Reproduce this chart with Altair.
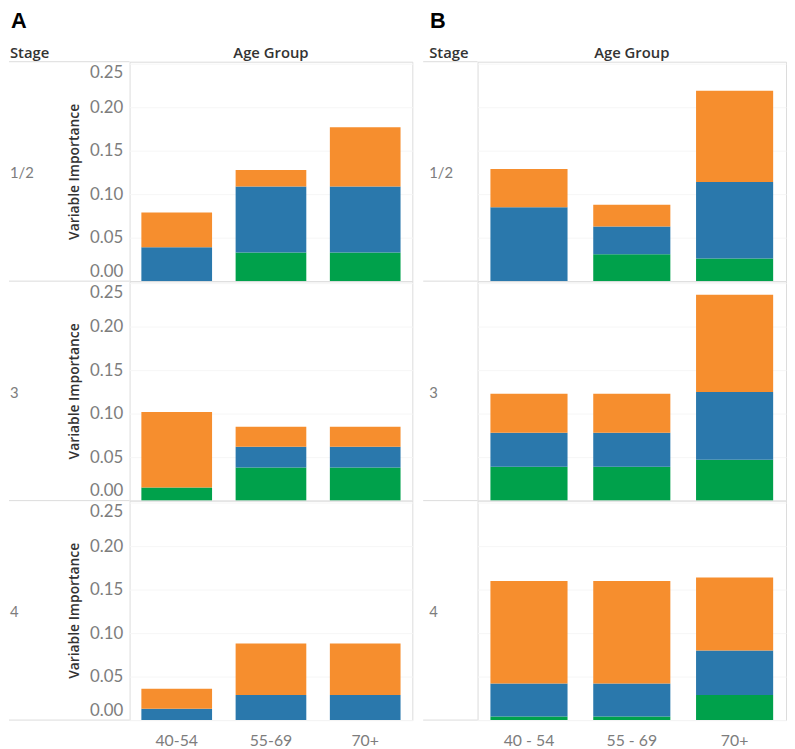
import altair as alt
import pandas as pd

# ---------------- data ----------------
stages = ["1/2", "3", "4"]
ages_a = ["40-54", "55-69", "70+"]
ages_b = ["40 - 54", "55 - 69", "70+"]
series = ["Green", "Blue", "Orange"]
colors = ["#00a14b", "#2a78ac", "#f68e2e"]
y_ticks = [0.0, 0.05, 0.10, 0.15, 0.20, 0.25]

# segment heights, one list per stage (rows) with one value per age group
a_green = [[0.000, 0.033, 0.033], [0.015, 0.038, 0.038], [0.000, 0.000, 0.000]]
a_blue = [[0.039, 0.076, 0.076], [0.000, 0.024, 0.024], [0.013, 0.029, 0.029]]
a_orange = [[0.040, 0.019, 0.068], [0.087, 0.023, 0.023], [0.023, 0.059, 0.059]]

b_green = [[0.000, 0.031, 0.026], [0.039, 0.039, 0.047], [0.004, 0.004, 0.029]]
b_blue = [[0.085, 0.032, 0.088], [0.039, 0.039, 0.078], [0.038, 0.038, 0.051]]
b_orange = [[0.044, 0.025, 0.105], [0.045, 0.045, 0.112], [0.118, 0.118, 0.084]]

# ---------------- layout ----------------
H = 222
W_A = 286
W_B = 312
LINE = "#dcdcdc"
LABEL_GREY = "#7d7d7d"
DARK = "#333333"
FONT = "Lato"


def frame(ages, green, blue, orange, i):
    rows = []
    for k, (name, vals) in enumerate(zip(series, [green, blue, orange])):
        for j, age in enumerate(ages):
            rows.append({"age": age, "series": name, "order": k, "value": vals[i][j]})
    return pd.DataFrame(rows)


def row_chart(ages, green, blue, orange, i, W, show_y, letter, label_x, ext):
    df = frame(ages, green, blue, orange, i)
    last = i == len(stages) - 1
    if show_y:
        y_axis = alt.Axis(
            title="Variable Importance", values=y_ticks, format=".2f",
            labelOffset={
                "condition": [
                    {"test": "datum.value <= 0", "value": -10},
                    {"test": "datum.value >= 0.25", "value": 9},
                ],
                "value": 0,
            },
            ticks=False, domain=False,
            grid=True, gridColor="#f6f6f6", labelColor=LABEL_GREY,
            labelFontSize=17, labelFont=FONT, labelPadding=7,
            titleFont="Open Sans", titleFontSize=14, titleFontWeight=600,
            titleColor=DARK, titlePadding=8,
        )
    else:
        y_axis = alt.Axis(
            title=None, values=y_ticks, labels=False, ticks=False,
            domain=False, grid=True, gridColor="#f6f6f6",
        )
    if last:
        x_axis = alt.Axis(
            title=None, labelAngle=0, ticks=False, domain=False,
            labelColor=LABEL_GREY, labelFontSize=16, labelFont=FONT,
            labelPadding=13,
        )
    else:
        x_axis = None

    bars = alt.Chart(df).mark_bar().encode(
        x=alt.X("age:N", sort=ages,
                scale=alt.Scale(paddingInner=0.25, paddingOuter=0.125),
                axis=x_axis),
        y=alt.Y("value:Q", stack="zero",
                scale=alt.Scale(domain=[0, 0.2525], nice=False),
                axis=y_axis),
        color=alt.Color("series:N", scale=alt.Scale(domain=series, range=colors),
                        legend=None),
        order=alt.Order("order:Q", sort="ascending"),
    )

    layers = [bars]

    stage_lbl = alt.Chart(pd.DataFrame({"t": [stages[i]]})).mark_text(
        align="left", baseline="middle", fontSize=15, font=FONT,
        color=LABEL_GREY,
    ).encode(x=alt.value(label_x), y=alt.value(H / 2 + 2), text="t:N")
    layers.append(stage_lbl)

    ext_top = alt.Chart(pd.DataFrame({"t": [0]})).mark_rule(
        color=LINE, strokeWidth=1
    ).encode(x=alt.value(ext), x2=alt.value(0), y=alt.value(0))
    layers.append(ext_top)

    if last:
        ext_bot = alt.Chart(pd.DataFrame({"t": [0]})).mark_rule(
            color=LINE, strokeWidth=1
        ).encode(x=alt.value(ext), x2=alt.value(0), y=alt.value(H))
        layers.append(ext_bot)

    if i == 0:
        head_stage = alt.Chart(pd.DataFrame({"t": ["Stage"]})).mark_text(
            align="left", baseline="middle", fontSize=15, font="Open Sans",
            fontWeight=600, color=DARK,
        ).encode(x=alt.value(label_x), y=alt.value(-9), text="t:N")
        head_age = alt.Chart(pd.DataFrame({"t": ["Age Group"]})).mark_text(
            align="center", baseline="middle", fontSize=15, font="Open Sans",
            fontWeight=600, color=DARK,
        ).encode(x=alt.value(W / 2), y=alt.value(-9), text="t:N")
        head_letter = alt.Chart(pd.DataFrame({"t": [letter]})).mark_text(
            align="left", baseline="top", fontSize=22,
            font="Liberation Sans", fontWeight="bold", color="#000000",
        ).encode(x=alt.value(label_x + 1), y=alt.value(-51), text="t:N")
        layers += [head_stage, head_age, head_letter]

    return alt.layer(*layers).properties(width=W, height=H)


panel_a = alt.vconcat(
    *[row_chart(ages_a, a_green, a_blue, a_orange, i, W_A, True, "A", -121, -122)
      for i in range(3)],
    spacing=0, bounds="flush",
)
panel_b = alt.vconcat(
    *[row_chart(ages_b, b_green, b_blue, b_orange, i, W_B, False, "B", -49, -55)
      for i in range(3)],
    spacing=0, bounds="flush",
)

chart = alt.hconcat(panel_a, panel_b, spacing=9).properties(
    padding={"left": 0, "top": -3, "right": 0, "bottom": 0}
).configure_view(
    stroke=LINE, strokeWidth=1
)

chart.save("out.html", embed_options={"renderer": "svg", "actions": False})
